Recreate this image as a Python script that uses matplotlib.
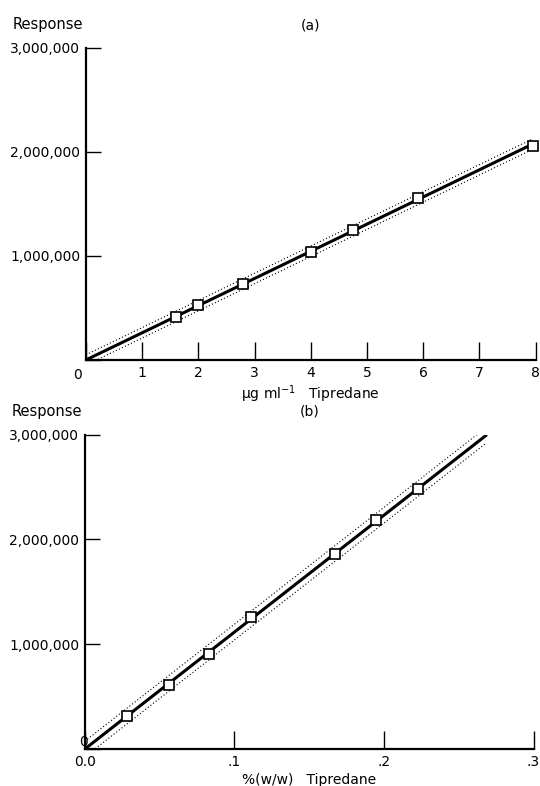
import numpy as np
import matplotlib
matplotlib.use("Agg")
import matplotlib.pyplot as plt

# (a) concentration series
conc_a = [1.6, 2.0, 2.8, 4.0, 4.75, 5.9, 7.95]           # ug/ml
resp_a = [0.41e6, 0.53e6, 0.73e6, 1.04e6, 1.25e6, 1.56e6, 2.06e6]
fit_end_a = 7.95
band_a = 0.05e6

# (b) %(w/w) series
conc_b = [0.028, 0.056, 0.083, 0.111, 0.1675, 0.195, 0.223]
resp_b = [0.32e6, 0.61e6, 0.91e6, 1.26e6, 1.86e6, 2.19e6, 2.48e6]
fit_end_b = 0.268
band_b = 0.075e6

yticks = [0, 1e6, 2e6, 3e6]
ylabels = ["", "1,000,000", "2,000,000", "3,000,000"]

plt.rcParams["font.family"] = ["DejaVu Sans"]
fig = plt.figure(figsize=(5.4, 7.86), dpi=100)
ax_a = fig.add_axes([0.159, 0.542, 0.833, 0.397])
ax_b = fig.add_axes([0.157, 0.047, 0.831, 0.400])


def panel(ax, x, y, xend, band, xlim, xticks, xticklabels, xlabel, title):
    x = np.asarray(x); y = np.asarray(y)
    slope = np.sum(x * y) / np.sum(x * x)      # fit through origin
    xx = np.array([0.0, xend])
    ax.plot(xx, slope * xx, color="black", lw=2.2, zorder=3)
    ax.plot(xx, slope * xx + band, color="black", lw=0.8, ls=(0, (1, 2)), zorder=2)
    ax.plot(xx, slope * xx - band, color="black", lw=0.8, ls=(0, (1, 2)), zorder=2)
    ax.plot(x, y, ls="none", marker="s", ms=6.5, mfc="white", mec="black",
            mew=1.2, zorder=4, clip_on=False)
    ax.set_xlim(*xlim); ax.set_ylim(0, 3e6)
    for s in ["top", "right"]:
        ax.spines[s].set_visible(False)
    for s in ["left", "bottom"]:
        ax.spines[s].set_linewidth(1.6)
    ax.set_yticks(yticks); ax.set_yticklabels(ylabels)
    ax.set_xticks(xticks); ax.set_xticklabels(xticklabels)
    ax.tick_params(axis="y", direction="in", length=11, width=1.0, pad=4, labelsize=10)
    ax.tick_params(axis="x", direction="in", length=13, width=1.0, pad=4, labelsize=10)
    ax.set_xlabel(xlabel, fontsize=10, labelpad=3)
    ax.text(0.5, 1.05, title, transform=ax.transAxes, ha="center", va="bottom", fontsize=10)
    ax.text(-0.163, 1.05, "Response", transform=ax.transAxes, ha="left", va="bottom",
            fontsize=10.5)


panel(ax_a, conc_a, resp_a, fit_end_a, band_a, (0, 8), list(range(9)),
      [""] + [str(i) for i in range(1, 9)], "μg ml$^{-1}$   Tipredane", "(a)")
ax_a.annotate("0", (0, 0), xytext=(-6, -6), textcoords="offset points",
              ha="center", va="top", fontsize=10)

panel(ax_b, conc_b, resp_b, fit_end_b, band_b, (0, 0.3), [0, 0.1, 0.2, 0.3],
      ["0.0", ".1", ".2", ".3"], "%(w/w)   Tipredane", "(b)")
ax_b.annotate("0", (0, 0), xytext=(-1, 0), textcoords="offset points",
              ha="center", va="bottom", fontsize=10)

fig.savefig("out.png", dpi=100)
